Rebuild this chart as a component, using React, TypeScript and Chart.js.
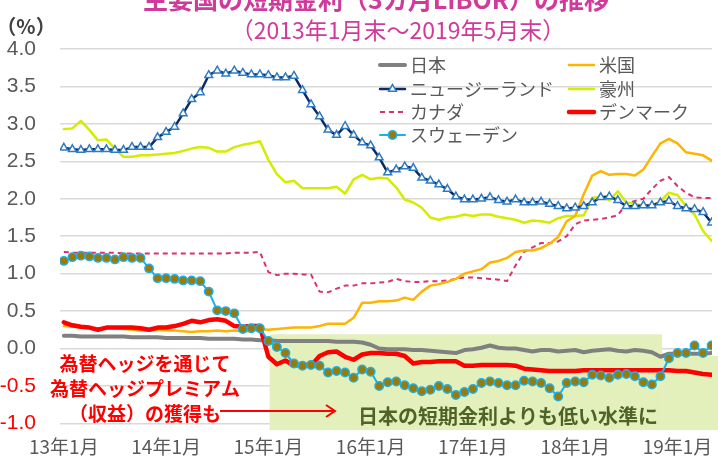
import React, { useEffect, useRef } from 'react';
import { Chart, registerables } from 'chart.js';

Chart.register(...registerables);

// ---- data ----
const xTickLabels = ['13年1月', '14年1月', '15年1月', '16年1月', '17年1月', '18年1月', '19年1月'];
const xTickIndex = [0, 12, 24, 36, 48, 60, 72];
const yTicks = { min: -1, max: 4, step: 0.5 };

const japan = [0.17,0.17,0.16,0.16,0.16,0.16,0.16,0.16,0.15,0.15,0.15,0.15,
  0.14,0.14,0.14,0.14,0.14,0.13,0.13,0.13,0.13,0.12,0.12,0.11,
  0.11,0.10,0.10,0.10,0.10,0.10,0.10,0.10,0.09,0.09,0.09,0.08,
  0.05,0.00,-0.01,-0.01,-0.01,-0.02,-0.02,-0.03,-0.04,-0.05,-0.06,-0.02,
  -0.01,0.01,0.04,0.01,0.00,0.00,-0.02,-0.04,-0.02,-0.02,-0.04,-0.03,
  -0.02,-0.05,-0.03,-0.02,-0.01,-0.03,-0.04,-0.02,-0.03,-0.05,-0.11,-0.07,
  -0.07,-0.07,-0.07,-0.07,-0.06];

const us = [0.30,0.29,0.28,0.27,0.27,0.27,0.27,0.26,0.25,0.24,0.24,0.25,
  0.24,0.24,0.23,0.22,0.23,0.23,0.24,0.23,0.24,0.23,0.23,0.26,
  0.25,0.26,0.27,0.28,0.28,0.28,0.30,0.33,0.33,0.33,0.41,0.61,
  0.61,0.63,0.63,0.64,0.68,0.65,0.76,0.84,0.86,0.89,0.93,1.00,
  1.03,1.06,1.15,1.17,1.21,1.29,1.31,1.31,1.34,1.40,1.49,1.70,
  1.77,2.06,2.31,2.37,2.32,2.33,2.33,2.31,2.39,2.57,2.74,2.80,
  2.74,2.62,2.60,2.58,2.51];

const newZealand = [2.68,2.66,2.65,2.66,2.66,2.66,2.65,2.65,2.69,2.69,2.69,2.82,
  2.89,2.96,3.14,3.33,3.42,3.65,3.71,3.67,3.71,3.68,3.66,3.66,
  3.65,3.62,3.62,3.64,3.45,3.26,3.10,2.92,2.85,2.97,2.85,2.75,
  2.71,2.55,2.35,2.39,2.43,2.41,2.28,2.24,2.19,2.13,2.03,1.99,
  1.99,2.00,2.02,1.98,1.96,1.99,1.95,1.95,1.96,1.93,1.90,1.87,
  1.88,1.90,1.95,2.02,2.03,1.98,1.90,1.90,1.91,1.91,1.95,1.97,
  1.90,1.87,1.86,1.82,1.68];

const australia = [2.93,2.94,3.04,2.92,2.78,2.79,2.67,2.56,2.56,2.58,2.58,2.59,
  2.60,2.61,2.64,2.67,2.69,2.68,2.63,2.63,2.69,2.72,2.74,2.77,
  2.52,2.33,2.22,2.24,2.14,2.14,2.14,2.14,2.16,2.07,2.26,2.32,
  2.26,2.28,2.27,2.15,1.99,1.95,1.88,1.75,1.72,1.75,1.76,1.79,
  1.77,1.79,1.79,1.76,1.74,1.72,1.68,1.71,1.70,1.68,1.74,1.77,
  1.77,1.78,2.01,2.03,1.98,2.10,1.95,1.93,1.91,1.90,1.97,2.08,
  2.05,1.90,1.79,1.57,1.44];

const canada = [1.29,1.28,1.28,1.28,1.28,1.28,1.28,1.27,1.27,1.27,1.27,1.27,
  1.27,1.27,1.27,1.27,1.27,1.27,1.27,1.27,1.28,1.28,1.28,1.29,
  1.02,0.98,1.00,1.00,0.99,0.99,0.76,0.75,0.80,0.84,0.84,0.87,
  0.87,0.88,0.89,0.93,0.90,0.89,0.89,0.90,0.90,0.91,0.93,0.95,
  0.95,0.94,0.93,0.92,0.90,1.11,1.29,1.35,1.41,1.41,1.43,1.50,
  1.66,1.71,1.72,1.73,1.75,1.78,1.93,1.97,2.00,2.13,2.24,2.29,
  2.17,2.08,2.02,2.01,2.01];

const denmark = [0.35,0.31,0.29,0.28,0.25,0.28,0.28,0.28,0.28,0.27,0.25,0.28,
  0.28,0.30,0.33,0.37,0.35,0.38,0.39,0.37,0.30,0.29,0.30,0.30,
  -0.11,-0.21,-0.16,-0.23,-0.21,-0.23,-0.10,-0.05,-0.04,-0.11,-0.15,-0.08,
  -0.06,-0.06,-0.07,-0.07,-0.10,-0.20,-0.18,-0.18,-0.17,-0.17,-0.17,-0.23,
  -0.23,-0.22,-0.22,-0.22,-0.22,-0.23,-0.27,-0.28,-0.29,-0.30,-0.30,-0.30,
  -0.30,-0.29,-0.29,-0.29,-0.29,-0.29,-0.29,-0.29,-0.29,-0.29,-0.29,-0.29,
  -0.30,-0.30,-0.32,-0.34,-0.35];

const sweden = [1.17,1.22,1.24,1.23,1.21,1.21,1.19,1.22,1.21,1.21,1.07,0.94,
  0.94,0.93,0.91,0.91,0.90,0.76,0.51,0.50,0.47,0.26,0.27,0.27,
  0.10,0.02,-0.06,-0.20,-0.23,-0.22,-0.23,-0.32,-0.30,-0.32,-0.39,-0.28,
  -0.31,-0.50,-0.45,-0.44,-0.49,-0.53,-0.57,-0.55,-0.50,-0.54,-0.62,-0.58,
  -0.54,-0.46,-0.44,-0.46,-0.49,-0.49,-0.43,-0.44,-0.46,-0.53,-0.64,-0.46,
  -0.44,-0.45,-0.35,-0.36,-0.39,-0.35,-0.34,-0.37,-0.45,-0.48,-0.37,-0.13,
  -0.06,-0.06,0.04,-0.06,0.04];

const titleText = '主要国の短期金利（3カ月LIBOR）の推移';
const subtitleText = '（2013年1月末～2019年5月末）';
const unitText = '（%）';
const redNote = ['為替ヘッジを通じて', '為替ヘッジプレミアム', '（収益）の獲得も'];
const greenNote = '日本の短期金利よりも低い水準に';
// shaded region, in data units (month index, %)
const shadeBoxes = [
  { x0: 24.15, x1: 70.2, y0: 0.19, y1: -1.09 },
  { x0: 70.2, x1: 76.8, y0: -0.10, y1: -1.09 },
];

// ---- styles ----
const JP = '"Noto Sans CJK JP", "Noto Sans", sans-serif';
const GRAY_TEXT = '#595959';
const PINK = '#CF3A9B';

const monthIndex = japan.map((_, i) => i);

function drawMarker(ctx: CanvasRenderingContext2D, style: string, x: number, y: number, r: number) {
  ctx.beginPath();
  if (style === 'triangle') {
    let rad = 0;
    const step = (Math.PI * 2) / 3;
    ctx.moveTo(x + Math.sin(rad) * r, y - Math.cos(rad) * r);
    rad += step;
    ctx.lineTo(x + Math.sin(rad) * r, y - Math.cos(rad) * r);
    rad += step;
    ctx.lineTo(x + Math.sin(rad) * r, y - Math.cos(rad) * r);
    ctx.closePath();
  } else {
    ctx.arc(x, y, r, 0, Math.PI * 2);
  }
  ctx.fill();
  ctx.stroke();
}

const annotPlugin = {
  id: 'annot',
  beforeDatasetsDraw(chart: any) {
    const { ctx, scales } = chart;
    const xs = scales.x, ys = scales.y;
    ctx.save();
    ctx.fillStyle = '#E3F0BB';
    for (const b of shadeBoxes) {
      const x0 = xs.getPixelForValue(b.x0), x1 = xs.getPixelForValue(b.x1);
      const y0 = ys.getPixelForValue(b.y0), y1 = ys.getPixelForValue(b.y1);
      ctx.fillRect(x0, y0, x1 - x0, y1 - y0);
    }
    ctx.restore();
  },
  afterDraw(chart: any) {
    const ctx: CanvasRenderingContext2D = chart.ctx;
    ctx.save();
    ctx.textBaseline = 'middle';
    ctx.textAlign = 'center';
    // titles
    ctx.fillStyle = PINK;
    ctx.font = `bold 25px ${JP}`;
    ctx.fillText(titleText, 376, -1);
    ctx.font = `23px ${JP}`;
    ctx.fillText(subtitleText, 398, 30);
    // unit
    ctx.fillStyle = '#404040';
    ctx.font = `bold 20px ${JP}`;
    ctx.fillText(unitText, 26, 26);
    // red note
    ctx.fillStyle = '#FF0000';
    ctx.font = `bold 19px ${JP}`;
    const ry = [364, 389, 414];
    redNote.forEach((t, i) => ctx.fillText(t, 145, ry[i]));
    // arrow
    ctx.strokeStyle = '#FF0000';
    ctx.lineWidth = 2;
    ctx.beginPath();
    ctx.moveTo(220, 411);
    ctx.lineTo(335, 411);
    ctx.moveTo(326, 405);
    ctx.lineTo(335, 411);
    ctx.lineTo(326, 417);
    ctx.stroke();
    // green note
    ctx.fillStyle = '#4F6228';
    ctx.font = `bold 20px ${JP}`;
    ctx.fillText(greenNote, 508, 416);
    // legend (two columns)
    const colX = [378, 567];
    const rowY = [65, 89, 112, 135];
    ctx.textAlign = 'left';
    ctx.font = `18px ${JP}`;
    chart.data.datasets.forEach((ds: any, i: number) => {
      const col = i < 4 ? 0 : 1;
      const row = i < 4 ? i : i - 4;
      const x0 = colX[col];
      const y = rowY[row];
      ctx.save();
      ctx.strokeStyle = ds.borderColor;
      ctx.lineWidth = ds.borderWidth;
      ctx.lineCap = ds.borderDash ? 'butt' : 'round';
      ctx.setLineDash(ds.borderDash || []);
      ctx.beginPath();
      ctx.moveTo(x0 + 2, y);
      ctx.lineTo(x0 + 27, y);
      ctx.stroke();
      ctx.setLineDash([]);
      if (ds.pointRadius > 0) {
        ctx.fillStyle = ds.pointBackgroundColor;
        ctx.strokeStyle = ds.pointBorderColor;
        ctx.lineWidth = ds.pointBorderWidth;
        drawMarker(ctx, ds.pointStyle, x0 + 14.5, y, ds.pointRadius);
      }
      ctx.restore();
      ctx.fillStyle = GRAY_TEXT;
      ctx.fillText(ds.label, x0 + 32, y);
    });
    ctx.restore();
  },
};

export default function App() {
  const ref = useRef<HTMLCanvasElement>(null);
  useEffect(() => {
    const line = (label: string, data: number[], color: string, width: number, order: number, extra: any = {}) => ({
      label, data, borderColor: color, backgroundColor: color, borderWidth: width, order,
      pointRadius: 0, tension: 0, borderJoinStyle: 'round', borderCapStyle: 'round', fill: false, ...extra,
    });
    const datasets = [
      line('日本', japan, '#808080', 4, 2),
      line('ニュージーランド', newZealand, '#0B2A66', 2.5, 3, {
        pointRadius: 4.5, pointStyle: 'triangle', pointBackgroundColor: '#FFFFFF',
        pointBorderColor: '#2E7BC4', pointBorderWidth: 1.5,
      }),
      line('カナダ', canada, '#D6336F', 2, 6, { borderDash: [5, 4], borderCapStyle: 'butt' }),
      line('スウェーデン', sweden, '#1AB0E8', 2, 0, {
        pointRadius: 4.2, pointStyle: 'circle', pointBackgroundColor: '#9C7A08',
        pointBorderColor: '#1AB0E8', pointBorderWidth: 1.5,
      }),
      line('米国', us, '#FFB400', 2.5, 4),
      line('豪州', australia, '#D4EC00', 2.5, 5),
      line('デンマーク', denmark, '#FF0000', 4.5, 1),
    ];
    const chart = new Chart(ref.current as HTMLCanvasElement, {
      type: 'line',
      data: { labels: monthIndex, datasets: datasets as any },
      options: {
        responsive: false,
        animation: false,
        devicePixelRatio: 1,
        layout: { padding: { top: 49, left: 0, right: 0, bottom: 0 } },
        plugins: { legend: { display: false }, tooltip: { enabled: false }, title: { display: false } },
        scales: {
          x: {
            type: 'linear',
            min: -0.45,
            max: 76.05,
            grid: { display: false, drawTicks: false },
            border: { display: false },
            afterBuildTicks: (s: any) => { s.ticks = xTickIndex.map((v) => ({ value: v })); },
            afterFit: (s: any) => { s.height = 34; s.paddingLeft = 0; s.paddingRight = 0; },
            ticks: {
              padding: 12,
              autoSkip: false,
              maxRotation: 0,
              color: GRAY_TEXT,
              font: { family: JP, size: 19 },
              callback: (v: any) => { const k = xTickIndex.indexOf(Number(v)); return k >= 0 ? xTickLabels[k] : ''; },
            },
          },
          y: {
            min: yTicks.min,
            max: yTicks.max,
            grid: { color: '#D9D9D9', lineWidth: 1.5, drawTicks: false },
            border: { display: false },
            afterFit: (s: any) => { s.width = 60; },
            ticks: {
              stepSize: yTicks.step,
              padding: 24,
              color: (c: any) => (c.tick && c.tick.value < 0 ? '#FF0000' : GRAY_TEXT),
              font: { family: '"Liberation Sans", Arial, sans-serif', size: 21 },
              callback: (v: any) => Number(v).toFixed(1),
            },
          },
        },
      },
      plugins: [annotPlugin as any],
    });
    return () => chart.destroy();
  }, []);
  return (
    <div style={{ position: 'absolute', left: 0, top: 0, width: 718, height: 460 }}>
      <canvas ref={ref} width={718} height={460} style={{ display: 'block' }} />
    </div>
  );
}
